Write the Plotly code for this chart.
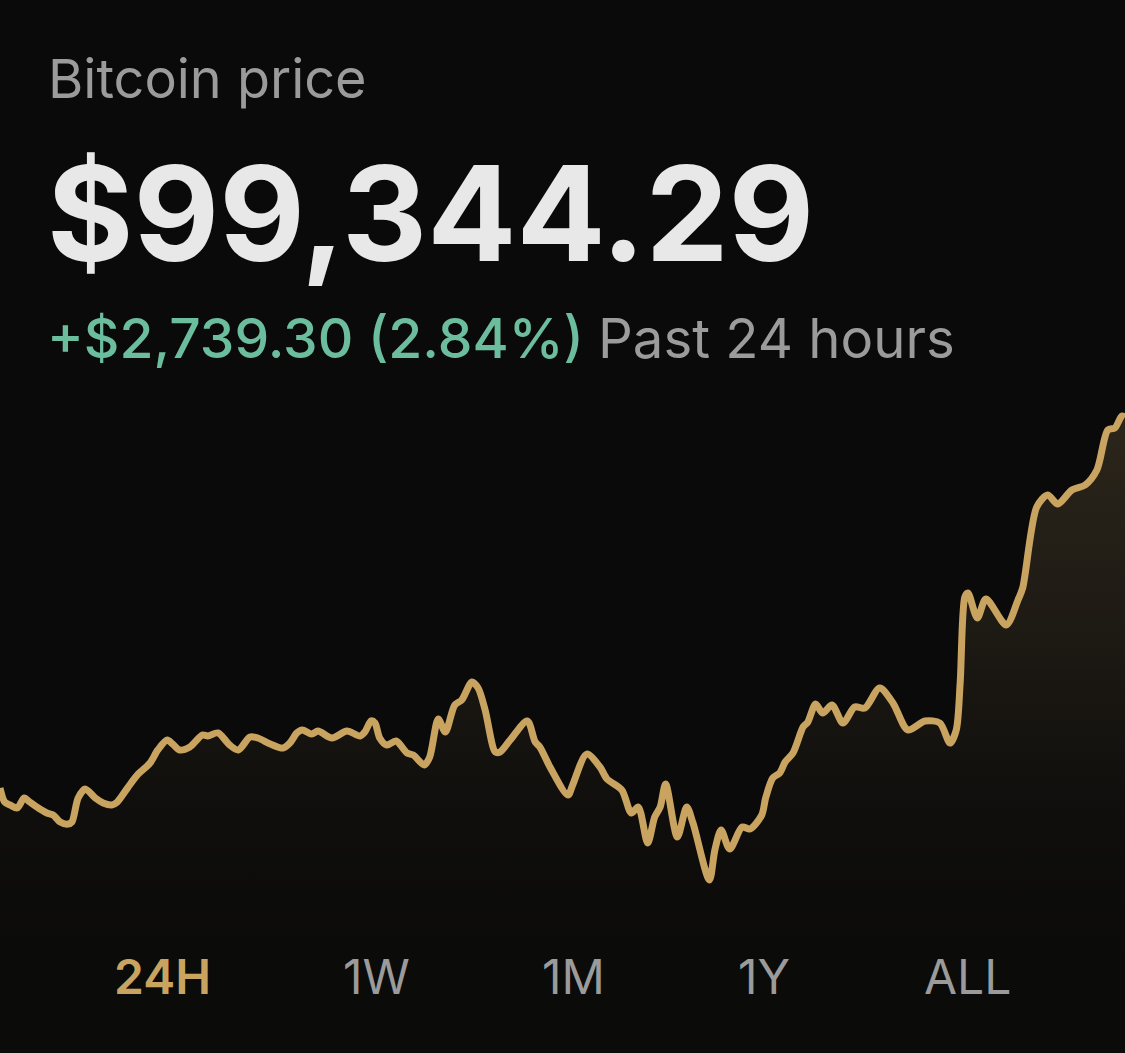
import plotly.graph_objects as go

# minutes into the 24h window and the price at that moment
minutes = [0, 6, 13, 22, 31, 38, 49, 60, 68, 77, 87, 92, 100, 109, 122, 132, 143, 150, 164, 177,
           192, 202, 214, 221, 230, 243, 259, 266, 279, 294, 305, 320, 330, 346, 362, 371, 380, 387, 399, 407,
           425, 444, 461, 467, 475, 480, 486, 495, 507, 521, 529, 543, 550, 561, 570, 582, 591, 604, 612, 621,
           634, 640, 653, 675, 685, 691, 704, 727, 733, 751, 768, 777, 796, 808, 817, 829, 838, 845, 852, 867,
           879, 887, 908, 915, 923, 934, 950, 960, 975, 980, 989, 998, 1005, 1015, 1028, 1034, 1044, 1053, 1065, 1079,
           1094, 1107, 1126, 1143, 1162, 1184, 1203, 1216, 1224, 1229, 1235, 1239, 1251, 1262, 1288, 1303, 1309, 1327, 1341, 1354,
           1372, 1389, 1404, 1418, 1427, 1436, 1440]
prices = [96620, 96517, 96495, 96473, 96546, 96517, 96473, 96436, 96421, 96370, 96355, 96370, 96546, 96612, 96546, 96510, 96495, 96517, 96627, 96723,
          96803, 96899, 96972, 96943, 96899, 96921, 97009, 97002, 97024, 96935, 96899, 96994, 96987, 96943, 96913, 96950, 97024, 97046, 97016, 97038,
          96987, 97038, 97002, 97031, 97112, 97097, 96987, 96935, 96965, 96877, 96862, 96789, 96847, 97126, 97031, 97229, 97266, 97398, 97354, 97192,
          96884, 96884, 96972, 97112, 96958, 96921, 96774, 96568, 96642, 96869, 96774, 96686, 96605, 96436, 96480, 96216, 96407, 96480, 96649, 96260,
          96480, 96363, 95944, 96164, 96311, 96172, 96333, 96319, 96421, 96546, 96693, 96730, 96811, 96877, 97068, 97104, 97237, 97170, 97229, 97097,
          97215, 97207, 97354, 97244, 97046, 97112, 97097, 96950, 97046, 97391, 98022, 98052, 97868, 98008, 97817, 98000, 98088, 98683, 98771, 98705,
          98808, 98845, 98955, 99249, 99263, 99351, 99344]

range_labels = ["24H", "1W", "1M", "1Y", "ALL"]
range_label_x = [162, 376, 573, 764, 967]

BG = "#0a0a0a"
GOLD = "#c9a461"
GREY = "#9b9b9b"
GREEN = "#6cbc9e"
WIDTH = 1125
HEIGHT = 1053

fig = go.Figure()

# price line with the gradient underneath
fig.add_trace(go.Scatter(
    x=minutes,
    y=prices,
    mode="lines",
    line=dict(color=GOLD, width=7, shape="spline", smoothing=0.8),
    fill="tozeroy",
    fillgradient=dict(
        type="vertical",
        start=95400,
        stop=99400,
        colorscale=[[0, "#0b0b0a"], [0.25, "#0f0e0c"], [0.6, "#1e1a14"], [1, "#2c261b"]],
    ),
    hoverinfo="skip",
    showlegend=False,
))


def add_text(text, x, y, size, color, weight=400):
    fig.add_annotation(
        xref="paper", yref="paper",
        x=x / WIDTH, y=1 - y / HEIGHT,
        xanchor="left", yanchor="middle",
        text=text, showarrow=False,
        font=dict(family="Inter", size=size, color=color, weight=weight),
    )


add_text("Bitcoin price", 46, 78, 54, GREY)
add_text("$99,344.29", 45, 213, 132, "#e8e8e8", 700)
add_text("+$2,739.30 (2.84%)", 45, 338, 55.2, GREEN, 500)
add_text("Past 24 hours", 596, 338, 54.5, GREY)

# range selector labels
for i, label in enumerate(range_labels):
    fig.add_annotation(
        xref="paper", yref="paper",
        x=range_label_x[i] / WIDTH, y=1 - 976 / HEIGHT,
        xanchor="center", yanchor="middle",
        text=label, showarrow=False,
        font=dict(family="Inter", size=48, color=GOLD if i == 0 else GREY, weight=600 if i == 0 else 400),
    )

fig.update_layout(
    width=WIDTH,
    height=HEIGHT,
    margin=dict(l=0, r=0, t=0, b=0),
    paper_bgcolor=BG,
    plot_bgcolor=BG,
    xaxis=dict(range=[0, 1440], visible=False),
    yaxis=dict(range=[94674, 102406], visible=False),
)

fig.write_html(
    "out.html",
    config=dict(displayModeBar=False),
    post_script="document.body.style.margin='0';document.body.style.background='#0a0a0a';",
)
